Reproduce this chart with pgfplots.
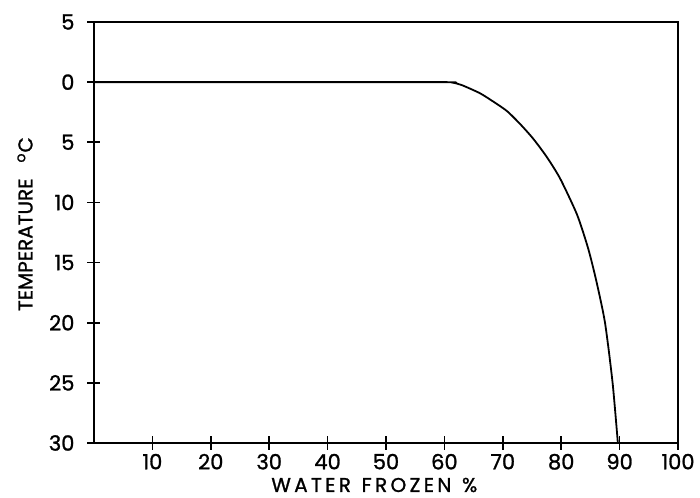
\documentclass[border=0pt]{standalone}
\usepackage{fontspec}
\setmainfont{Poppins}[FakeBold=1.2]
\usepackage{pgfplots}
\pgfplotsset{compat=1.18}
\begin{document}
\begin{tikzpicture}
\begin{axis}[
  name=ax,
  scale only axis,
  width=292pt, height=210.5pt,
  xmin=0, xmax=100, ymin=-30, ymax=5,
  axis line style={line width=0.9pt},
  xtick={10,20,...,100},
  ytick={-30,-25,...,5},
  yticklabels={30,25,20,15,10,5,0,5},
  tick align=center,
  major tick length=6.5pt,
  tick style={line width=0.8pt, black},
  xtick pos=bottom, ytick pos=left,
  /pgf/number format/assume math mode=true,
  tick label style={font=\fontsize{10.5}{12}\selectfont},
  xticklabel style={inner sep=1pt, yshift=-1pt},
  yticklabel style={xshift=-3pt},
  xlabel={W\,A\,T\,E\,R\ \ F\,R\,O\,Z\,E\,N\ \ \%},
  ylabel={TEMPERATURE\ \ \ \textsuperscript{o}C},
  label style={font=\fontsize{10}{12}\selectfont},
  xlabel style={at={(axis description cs:0.48,0)}, anchor=center, inner sep=0pt, yshift=-21pt},
  ylabel style={at={(axis description cs:0,0.52)}, anchor=center, yshift=34.5pt},
]
\addplot[black, line width=0.9pt, smooth, tension=0.4] coordinates {
(0,0) (30,0) (60,0) (61.5,-0.05) (63,-0.25) (66,-0.9) (68,-1.5) (70.7,-2.4) (73,-3.5) (75.2,-4.7) (77.5,-6.2) (79.8,-8) (82.7,-11) (84.6,-13.8) (86,-16.5) (87.5,-20) (88.8,-25) (89.7,-30)
};
\end{axis}
\pgfresetboundingbox
\path ([shift={(-47pt,-27pt)}]ax.south west) rectangle ([shift={(11pt,11pt)}]ax.north east);
\end{tikzpicture}
\end{document}
